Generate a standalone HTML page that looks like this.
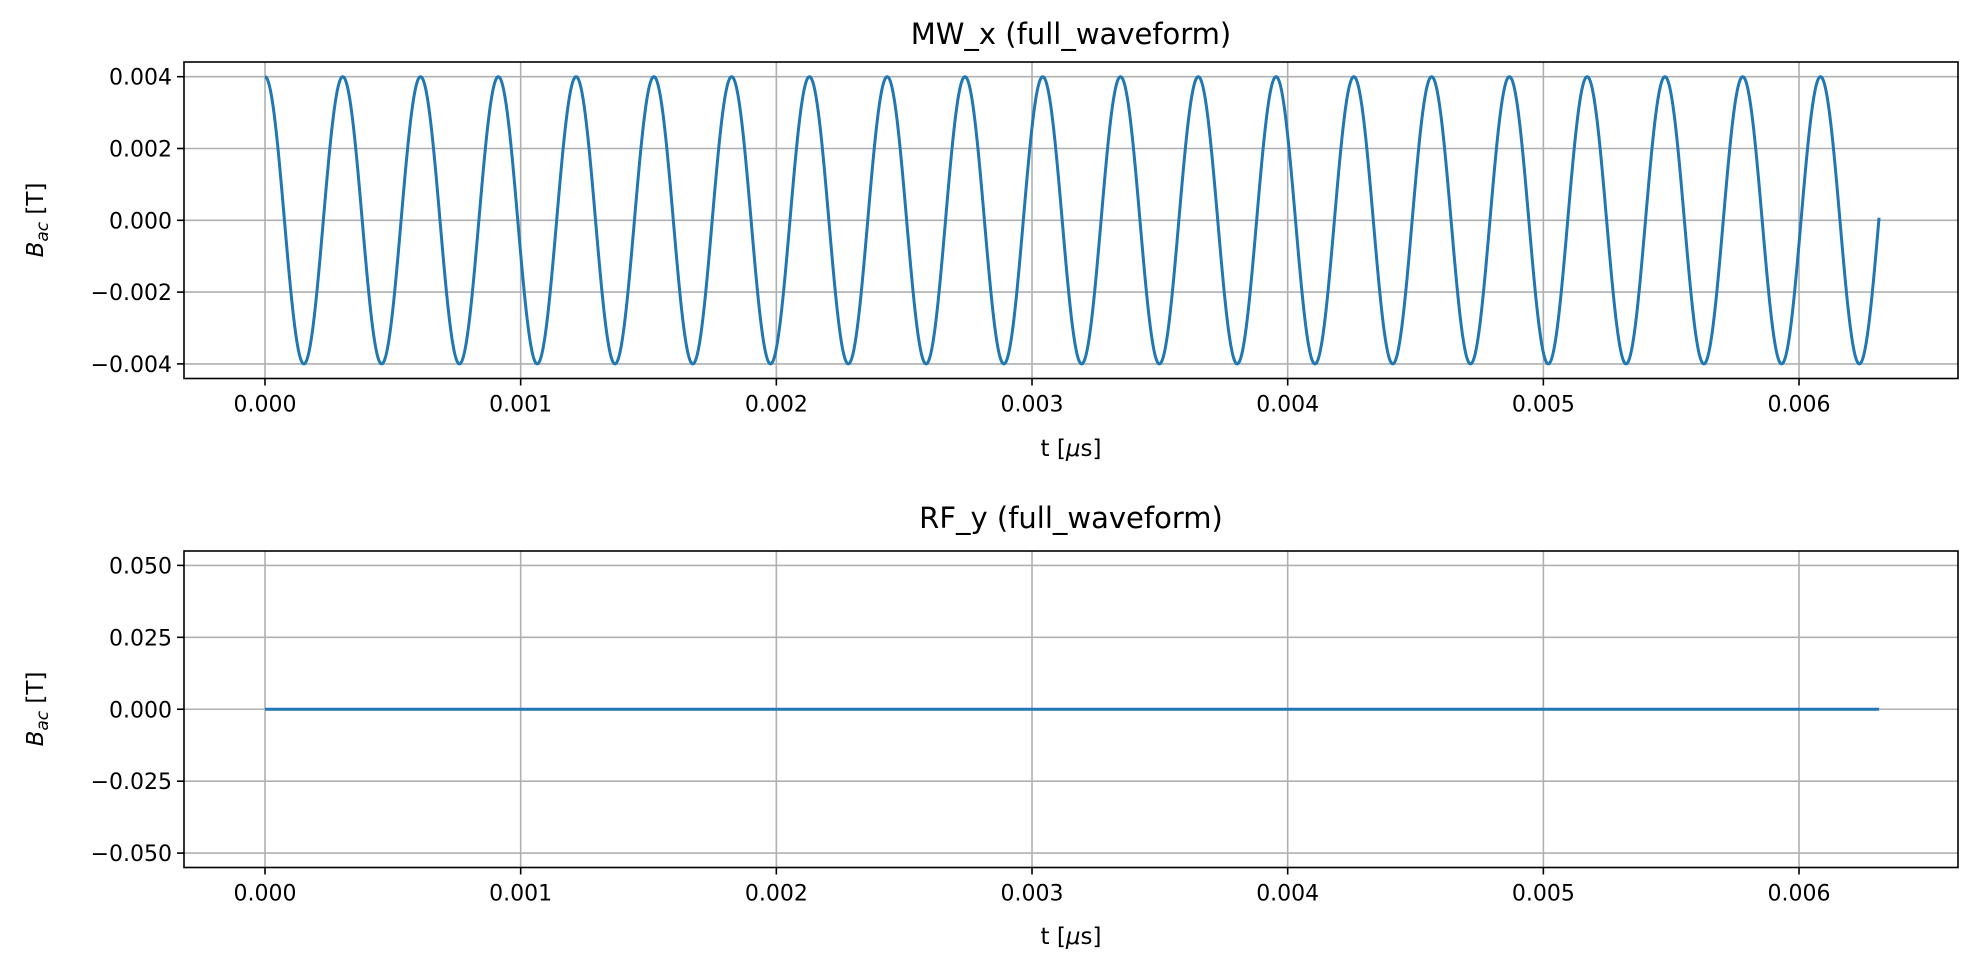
<!DOCTYPE html>
<html><head><meta charset="utf-8"><style>
html,body{margin:0;padding:0;background:#fff;}
svg{display:block;font-family:"DejaVu Sans","Liberation Sans",sans-serif;}
</style></head><body>
<svg id="s" width="1978" height="974" viewBox="0 0 1978 974" xmlns="http://www.w3.org/2000/svg">
<rect width="1978" height="974" fill="#fff"/>
<g id="g1"></g>
<g id="g2"></g>
<text x="1071" y="44" font-size="29" text-anchor="middle">MW_x (full_waveform)</text>
<text x="1071" y="528" font-size="29" text-anchor="middle">RF_y (full_waveform)</text>
<text x="1071" y="456" font-size="23" text-anchor="middle">t [<tspan font-style="italic">μ</tspan>s]</text>
<text x="1071" y="944" font-size="23" text-anchor="middle">t [<tspan font-style="italic">μ</tspan>s]</text>
<text transform="translate(43,220) rotate(-90)" font-size="23" text-anchor="middle"><tspan font-style="italic">B</tspan><tspan font-style="italic" font-size="17" dy="5">ac</tspan><tspan dy="-5"> [T]</tspan></text>
<text transform="translate(43,709) rotate(-90)" font-size="23" text-anchor="middle"><tspan font-style="italic">B</tspan><tspan font-style="italic" font-size="17" dy="5">ac</tspan><tspan dy="-5"> [T]</tspan></text>
</svg>
<script>
var NS="http://www.w3.org/2000/svg";
function el(p,t,a,txt){var e=document.createElementNS(NS,t);for(var k in a)e.setAttribute(k,a[k]);if(txt!==undefined)e.textContent=txt;p.appendChild(e);return e;}
var L=184,R=1958;
function xs(t){return 265+t*255670;}
function panel(g,top,bot,yt,yf,labels,pathd){
  for(var i=0;i<=6;i++){var x=xs(i*0.001);
    el(g,'line',{x1:x,x2:x,y1:top,y2:bot,stroke:'#b0b0b0','stroke-width':1.6});
    el(g,'line',{x1:x,x2:x,y1:bot,y2:bot+7,stroke:'#000','stroke-width':1.6});
    el(g,'text',{x:x,y:bot+33,'font-size':22,'text-anchor':'middle'},'0.00'+i);}
  for(var j=0;j<yt.length;j++){var y=yf(yt[j]);
    el(g,'line',{x1:L,x2:R,y1:y,y2:y,stroke:'#b0b0b0','stroke-width':1.6});
    el(g,'line',{x1:L-7,x2:L,y1:y,y2:y,stroke:'#000','stroke-width':1.6});
    el(g,'text',{x:L-12,y:y+8,'font-size':22,'text-anchor':'end'},labels[j]);}
  el(g,'path',{d:pathd,fill:'none',stroke:'#1f77b4','stroke-width':3,'stroke-linejoin':'round','stroke-linecap':'butt'});
  el(g,'rect',{x:L,y:top,width:R-L,height:bot-top,fill:'none',stroke:'#000','stroke-width':1.6});
}
var y1=function(v){return 220.3-v*35900;};
var d='',T=0.0003042,tend=0.006313;
for(var i=0;i<=3000;i++){var t=tend*i/3000;var v=0.004*Math.cos(2*Math.PI*t/T);d+=(i?'L':'M')+xs(t).toFixed(2)+' '+y1(v).toFixed(2);}
panel(document.getElementById('g1'),62,378.5,[0.004,0.002,0,-0.002,-0.004],y1,['0.004','0.002','0.000','\u22120.002','\u22120.004'],d);
var y2=function(v){return 709.25-v*2877;};
panel(document.getElementById('g2'),551,867.5,[0.05,0.025,0,-0.025,-0.05],y2,['0.050','0.025','0.000','\u22120.025','\u22120.050'],'M'+xs(0)+' '+y2(0)+'L'+xs(tend)+' '+y2(0));
</script>
</body></html>
